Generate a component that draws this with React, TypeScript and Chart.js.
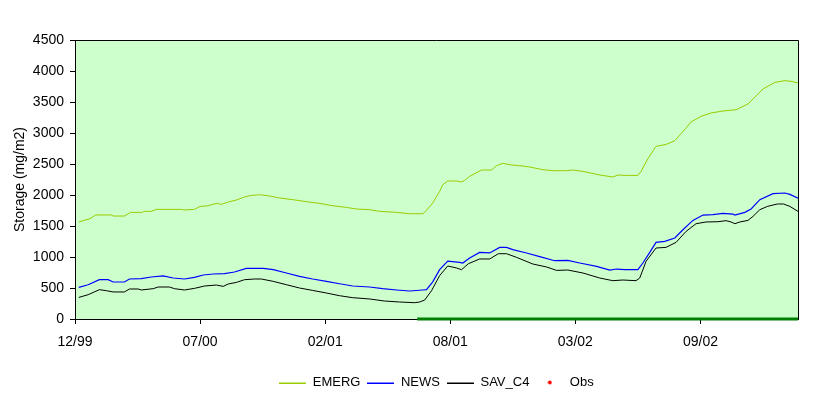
import React, { useEffect, useRef } from "react";
import { Chart, registerables } from "chart.js";

Chart.register(...registerables);

// x = days since start of record, y = storage (mg/m2)
const tickLabels = ["12/99", "07/00", "02/01", "08/01", "03/02", "09/02"];
const xMaxDay = 1156;
const tickStepDays = 200;

const emerg: [number, number][] = [
  [6, 1565], [24, 1618], [33, 1678], [58, 1678], [61, 1661], [79, 1661], [89, 1720],
  [108, 1720], [110, 1736], [122, 1736], [130, 1768], [170, 1768], [174, 1758],
  [191, 1768], [200, 1816], [213, 1827], [226, 1865], [234, 1849], [245, 1887],
  [258, 1919], [271, 1968], [279, 1989], [295, 2005], [311, 1984], [327, 1952],
  [349, 1924], [370, 1892], [391, 1865], [412, 1827], [434, 1800], [450, 1774],
  [471, 1763], [487, 1736], [514, 1720], [535, 1698], [556, 1698], [559, 1720],
  [572, 1871], [583, 2058], [588, 2166], [596, 2226], [610, 2226], [618, 2210],
  [623, 2236], [631, 2301], [650, 2403], [666, 2403], [674, 2473], [684, 2510],
  [698, 2484], [711, 2473], [727, 2452], [748, 2408], [764, 2392], [786, 2392],
  [796, 2403], [812, 2381], [839, 2323], [860, 2290], [868, 2323], [879, 2316],
  [900, 2316], [905, 2381], [916, 2586], [929, 2784], [945, 2816], [959, 2876],
  [977, 3081], [985, 3178], [1001, 3268], [1017, 3323], [1036, 3355], [1057, 3376],
  [1076, 3468], [1100, 3710], [1119, 3817], [1135, 3844], [1145, 3833], [1156, 3807],
];

const news: [number, number][] = [
  [6, 510], [21, 553], [39, 634], [53, 634], [61, 597], [79, 597], [87, 645],
  [106, 650], [122, 677], [141, 694], [157, 661], [175, 645], [191, 671], [205, 710],
  [221, 726], [239, 731], [255, 758], [274, 816], [301, 816], [317, 795], [338, 742],
  [359, 687], [380, 645], [402, 607], [423, 569], [444, 532], [471, 516], [492, 489],
  [514, 468], [535, 452], [556, 468], [562, 473], [572, 600], [583, 795], [596, 935],
  [615, 913], [620, 903], [631, 984], [647, 1074], [663, 1065], [679, 1155],
  [690, 1155], [700, 1118], [722, 1065], [743, 1005], [767, 940], [788, 945],
  [807, 903], [834, 848], [855, 790], [866, 806], [879, 795], [900, 795], [908, 903],
  [919, 1074], [929, 1236], [943, 1252], [959, 1306], [972, 1440], [988, 1590],
  [1004, 1677], [1020, 1682], [1036, 1703], [1052, 1693], [1055, 1677], [1071, 1720],
  [1081, 1774], [1095, 1924], [1116, 2021], [1135, 2032], [1143, 2010], [1156, 1950],
];

const savC4: [number, number][] = [
  [6, 348], [21, 392], [39, 473], [50, 457], [61, 436], [79, 436], [87, 484],
  [101, 484], [106, 468], [125, 489], [133, 516], [151, 516], [159, 489], [175, 468],
  [191, 494], [207, 532], [226, 548], [237, 526], [245, 565], [258, 590], [271, 634],
  [287, 645], [298, 645], [317, 607], [338, 553], [359, 500], [380, 461], [402, 419],
  [423, 376], [444, 344], [471, 323], [495, 290], [519, 274], [543, 263], [551, 274],
  [559, 305], [570, 455], [583, 700], [596, 855], [610, 823], [618, 795], [629, 892],
  [647, 968], [663, 968], [677, 1053], [690, 1053], [706, 994], [732, 887],
  [754, 839], [770, 784], [788, 790], [812, 742], [839, 661], [860, 618], [876, 629],
  [897, 618], [903, 661], [913, 929], [929, 1145], [945, 1155], [961, 1236],
  [977, 1413], [993, 1537], [1009, 1565], [1028, 1569], [1041, 1586], [1049, 1565],
  [1055, 1537], [1063, 1565], [1076, 1590], [1084, 1655], [1095, 1763], [1107, 1816],
  [1123, 1855], [1133, 1855], [1143, 1816], [1156, 1736],
];

// dark green bar along the zero line (observation period)
const obsPeriod: [number, number][] = [[547, 0], [1156, 0]];
const obs: [number, number][] = [];

const FONT = "'Liberation Sans', Arial, sans-serif";

function lineIcon(color: string) {
  const c = document.createElement("canvas");
  c.width = 27;
  c.height = 2;
  const g = c.getContext("2d")!;
  g.fillStyle = color;
  g.fillRect(0, 1, 27, 1);
  return c;
}
function dotIcon(color: string) {
  const c = document.createElement("canvas");
  c.width = 5;
  c.height = 5;
  const g = c.getContext("2d")!;
  g.fillStyle = color;
  g.beginPath();
  g.arc(2.5, 2.5, 1.9, 0, Math.PI * 2);
  g.fill();
  return c;
}

const toXY = (a: [number, number][]) => a.map(([x, y]) => ({ x, y }));

export default function App() {
  const ref = useRef<HTMLCanvasElement>(null);
  useEffect(() => {
    const icons = [lineIcon("#99CC00"), lineIcon("#0000FF"), lineIcon("#000000"), dotIcon("#FF0000")];
    const bgPlugin = {
      id: "plotBg",
      beforeDraw(chart: any) {
        const { ctx, chartArea: a } = chart;
        ctx.save();
        ctx.fillStyle = "#CCFFCC";
        ctx.fillRect(a.left, a.top, a.right - a.left, a.bottom - a.top);
        ctx.restore();
      },
      afterDraw(chart: any) {
        const { ctx, chartArea: a } = chart;
        ctx.save();
        ctx.strokeStyle = "#000";
        ctx.lineWidth = 1;
        ctx.beginPath();
        ctx.moveTo(a.left, a.top + 0.5);
        ctx.lineTo(a.right + 0.5, a.top + 0.5);
        ctx.lineTo(a.right + 0.5, a.bottom);
        ctx.stroke();
        ctx.restore();
      },
    };
    const chart = new Chart(ref.current!, {
      type: "line",
      data: {
        datasets: [
          { label: "EMERG", data: toXY(emerg), borderColor: "#99CC00", borderWidth: 1 },
          { label: "NEWS", data: toXY(news), borderColor: "#0000FF", borderWidth: 1.2 },
          { label: "SAV_C4", data: toXY(savC4), borderColor: "#000000", borderWidth: 1 },
          { label: "Obs", data: toXY(obs), borderColor: "#FF0000", backgroundColor: "#FF0000", showLine: false, pointRadius: 2 },
          { label: "obsPeriod", data: toXY(obsPeriod), borderColor: "#008000", borderWidth: 3, clip: false },
        ] as any,
      },
      plugins: [bgPlugin],
      options: {
        animation: false,
        responsive: false,
        devicePixelRatio: 1,
        layout: { padding: { left: 0, right: 34, top: 40, bottom: 0 } },
        elements: { point: { radius: 0 }, line: { tension: 0 } },
        scales: {
          x: {
            type: "linear",
            min: 0,
            max: xMaxDay,
            afterFit(s: any) { s.height = 50; },
            border: { display: true, color: "#000", width: 1 },
            grid: { drawOnChartArea: false, drawTicks: true, tickLength: 5, color: "#000" },
            ticks: {
              stepSize: tickStepDays,
              includeBounds: false,
              autoSkip: false,
              maxRotation: 0,
              padding: 10,
              color: "#000",
              font: { family: FONT, size: 14 },
              callback: (v: any) => tickLabels[Math.round(Number(v) / tickStepDays)] ?? "",
            },
          },
          y: {
            min: 0,
            max: 4500,
            afterFit(s: any) { s.width = 75; },
            border: { display: true, color: "#000", width: 1 },
            grid: { drawOnChartArea: false, drawTicks: true, tickLength: 5, color: "#000" },
            ticks: {
              stepSize: 500,
              padding: 6,
              color: "#000",
              font: { family: FONT, size: 14 },
              callback: (v: any) => String(v),
            },
            title: {
              display: true,
              text: "Storage (mg/m2)",
              color: "#000",
              font: { family: FONT, size: 14 },
              padding: { top: 12, bottom: 0 },
            },
          },
        },
        plugins: {
          tooltip: { enabled: false },
          legend: {
            position: "bottom",
            fullSize: false,
            labels: {
              usePointStyle: true,
              pointStyleWidth: 27,
              boxWidth: 27,
              padding: 7,
              color: "#000",
              font: { family: FONT, size: 13 },
              filter: (item: any) => item.text !== "obsPeriod",
              generateLabels: (c: any) => {
                const items = (Chart.defaults.plugins.legend.labels as any).generateLabels(c);
                items.forEach((it: any) => {
                  if (it.datasetIndex < icons.length) it.pointStyle = icons[it.datasetIndex];
                });
                return items;
              },
            },
          },
        },
      } as any,
    });
    return () => chart.destroy();
  }, []);
  return (
    <div style={{ position: "fixed", left: 0, top: 0, width: 832, height: 399, background: "#fff" }}>
      <canvas ref={ref} width={832} height={399} style={{ display: "block", width: 832, height: 399 }} />
    </div>
  );
}
